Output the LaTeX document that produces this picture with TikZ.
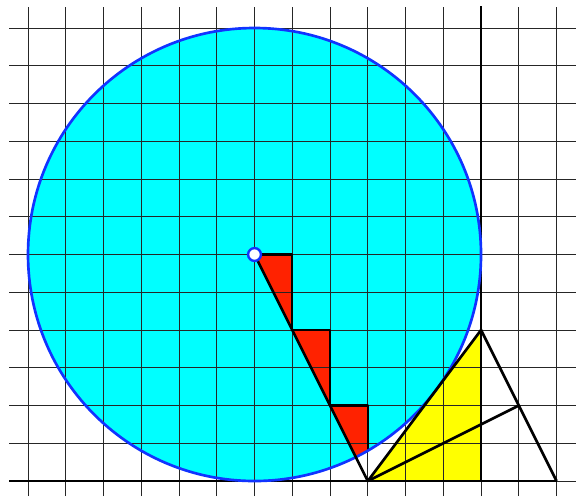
\documentclass[tikz,border=0pt]{standalone}
\definecolor{cyanfill}{RGB}{0,255,255}
\definecolor{redfill}{RGB}{255,34,0}
\definecolor{circblue}{RGB}{17,51,255}
\definecolor{yellowfill}{RGB}{255,255,0}
\tikzset{
  gridline/.style={black!85,line width=0.7pt},
  thickline/.style={black,line width=2pt},
  axisline/.style={black,line width=2.2pt},
  tri/.style={black,line width=1.8pt,line join=round},
}
\begin{document}
\begin{tikzpicture}
\useasboundingbox (-0.742,-0.424) rectangle (14.516,12.742);
\coordinate (O) at (6,6);
\coordinate (A) at (9,0);
\coordinate (B) at (12,4);
\coordinate (C) at (12,0);
\coordinate (D) at (14,0);
\coordinate (M) at (13,2);
% circle fill
\fill[cyanfill] (O) circle (6);
% yellow triangle
\fill[yellowfill] (A) -- (B) -- (C) -- cycle;
% red triangles clipped to circle
\begin{scope}
\clip (O) circle (6);
\fill[redfill] (6,6) -- (7,6) -- (7,4) -- cycle;
\fill[redfill] (7,4) -- (8,4) -- (8,2) -- cycle;
\fill[redfill] (8,2) -- (9,2) -- (9,0) -- cycle;
\end{scope}
% grid
\foreach \x in {0,...,14} \draw[gridline] (\x,-0.4) -- (\x,12.55);
\foreach \y in {1,...,12} \draw[gridline] (-0.5,\y) -- (14.55,\y);
\draw[gridline] (-0.5,0) -- (14.55,0);
% triangle outlines clipped
\begin{scope}
\clip (O) circle (6);
\draw[tri] (6,6) -- (7,6) -- (7,4) -- (8,4) -- (8,2) -- (9,2) -- (9,0);
\end{scope}
% axes
\draw[axisline] (-0.5,0) -- (D);
\draw[axisline] (C) -- (12,12.57);
% circle outline
\draw[circblue,line width=2pt] (O) circle (6);
% lines
\draw[thickline] (O) -- (A);
\draw[thickline] (A) -- (B) -- (D);
\draw[thickline] (A) -- (M);
% point
\filldraw[fill=white,draw=circblue,line width=1.8pt] (O) circle (0.17);
\end{tikzpicture}
\end{document}
